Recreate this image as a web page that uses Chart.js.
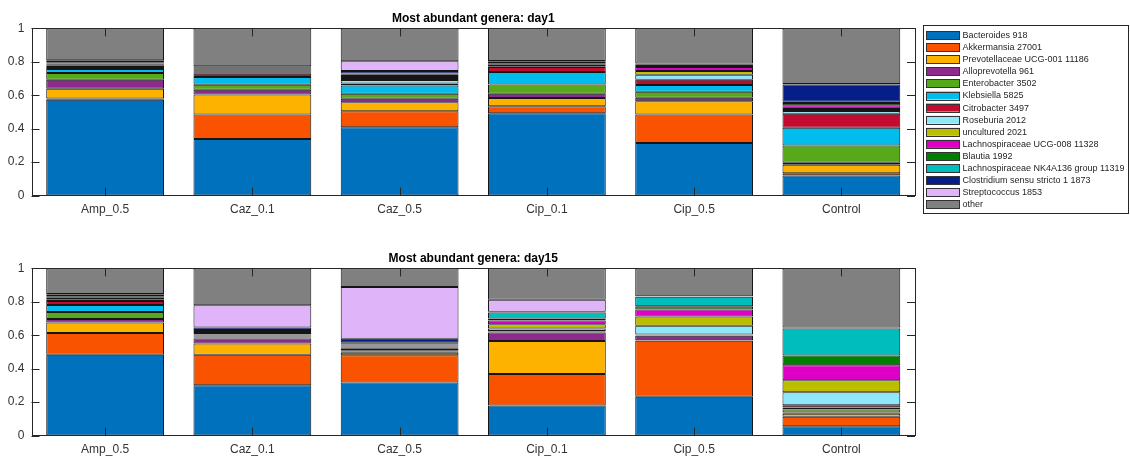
<!DOCTYPE html>
<html>
<head>
<meta charset="utf-8">
<script src="https://cdn.jsdelivr.net/npm/chart.js@4/dist/chart.umd.min.js"></script>
<style>
  html, body { margin: 0; padding: 0; background: #fff; }
  #wrap { position: relative; width: 1130px; height: 457px; overflow: hidden; }
  canvas { position: absolute; left: 0; }
  #day1 { top: 0; }
  #day15 { top: 240px; }
</style>
</head>
<body>
<div id="wrap">
  <canvas id="day1" width="1130" height="228"></canvas>
  <canvas id="day15" width="1130" height="224"></canvas>
</div>
<script>
// Treatment groups on the x axis
const categories = ['Amp_0.5', 'Caz_0.1', 'Caz_0.5', 'Cip_0.1', 'Cip_0.5', 'Control'];

// Genera (stack order, bottom to top)
const genera = [
  'Bacteroides 918',
  'Akkermansia 27001',
  'Prevotellaceae UCG-001 11186',
  'Alloprevotella 961',
  'Enterobacter 3502',
  'Klebsiella 5825',
  'Citrobacter 3497',
  'Roseburia 2012',
  'uncultured 2021',
  'Lachnospiraceae UCG-008 11328',
  'Blautia 1992',
  'Lachnospiraceae NK4A136 group 11319',
  'Clostridium sensu stricto 1 1873',
  'Streptococcus 1853',
  'other'
];

const generaColors = [
  '#0071bd', '#f95300', '#fdb200', '#8c2a8e', '#58a81c',
  '#00bdee', '#c10c30', '#8fe8fa', '#bcbc00', '#df00c6',
  '#007f00', '#00bdbd', '#061f88', '#e0b4f8', '#808080'
];

const yTicks = [0, 0.2, 0.4, 0.6, 0.8, 1];

// Relative abundance, one row per genus, one column per group
const day1Shares = [
  [0.573, 0.339, 0.409, 0.493, 0.315, 0.120],
  [0.008, 0.146, 0.096, 0.042, 0.170, 0.014],
  [0.058, 0.120, 0.054, 0.048, 0.080, 0.050],
  [0.054, 0.028, 0.020, 0.026, 0.020, 0.012],
  [0.040, 0.030, 0.030, 0.056, 0.036, 0.104],
  [0.024, 0.046, 0.050, 0.074, 0.040, 0.106],
  [0.012, 0.020, 0.012, 0.030, 0.032, 0.084],
  [0.006, 0.006, 0.020, 0.004, 0.030, 0.016],
  [0.005, 0.006, 0.012, 0.008, 0.022, 0.012],
  [0.005, 0.006, 0.012, 0.004, 0.024, 0.022],
  [0.005, 0.006, 0.008, 0.004, 0.006, 0.014],
  [0.005, 0.006, 0.008, 0.004, 0.008, 0.008],
  [0.010, 0.008, 0.014, 0.008, 0.004, 0.103],
  [0.005, 0.006, 0.058, 0.004, 0.003, 0.002],
  [0.190, 0.227, 0.197, 0.195, 0.210, 0.333]
];

const day15Shares = [
  [0.483, 0.301, 0.317, 0.180, 0.232, 0.056],
  [0.130, 0.182, 0.164, 0.188, 0.335, 0.056],
  [0.064, 0.068, 0.014, 0.198, 0.004, 0.018],
  [0.020, 0.030, 0.008, 0.050, 0.026, 0.008],
  [0.042, 0.006, 0.008, 0.003, 0.003, 0.018],
  [0.042, 0.006, 0.008, 0.003, 0.003, 0.012],
  [0.024, 0.006, 0.008, 0.003, 0.002, 0.014],
  [0.008, 0.006, 0.006, 0.015, 0.052, 0.077],
  [0.004, 0.008, 0.006, 0.026, 0.056, 0.072],
  [0.008, 0.006, 0.006, 0.022, 0.041, 0.090],
  [0.004, 0.006, 0.008, 0.012, 0.020, 0.058],
  [0.004, 0.006, 0.006, 0.036, 0.056, 0.162],
  [0.010, 0.016, 0.020, 0.004, 0.002, 0.003],
  [0.004, 0.133, 0.310, 0.073, 0.002, 0.002],
  [0.153, 0.220, 0.111, 0.187, 0.166, 0.354]
];

const FONT = '"Liberation Sans", Arial, Helvetica, sans-serif';
const AXIS_COLOR = '#262626';
const TICK_LEN = 8;

// Boxed axes with inward-pointing tick marks on all four sides
const boxAxesPlugin = {
  id: 'boxAxes',
  afterDatasetsDraw(chart) {
    const { ctx, chartArea: a, scales } = chart;
    const xs = scales.x, ys = scales.y;
    ctx.save();
    ctx.strokeStyle = AXIS_COLOR;
    ctx.lineWidth = 1;
    ctx.beginPath();
    yTicks.forEach(v => {
      const y = Math.round(ys.getPixelForValue(v)) + 0.5;
      ctx.moveTo(a.left, y); ctx.lineTo(a.left + TICK_LEN, y);
      ctx.moveTo(a.right, y); ctx.lineTo(a.right - TICK_LEN, y);
    });
    categories.forEach((c, i) => {
      const x = Math.round(xs.getPixelForValue(i)) + 0.5;
      ctx.moveTo(x, a.bottom); ctx.lineTo(x, a.bottom - TICK_LEN);
      ctx.moveTo(x, a.top); ctx.lineTo(x, a.top + TICK_LEN);
    });
    ctx.stroke();
    ctx.strokeRect(Math.round(a.left) + 0.5, Math.round(a.top) + 0.5,
                   Math.round(a.right - a.left) - 1, Math.round(a.bottom - a.top));
    ctx.restore();
  }
};

// Framed legend to the right of the plot
const sideLegendPlugin = {
  id: 'sideLegend',
  afterDraw(chart, args, opts) {
    if (!opts.show) return;
    const { ctx } = chart;
    const x0 = 923, y0 = 25, w = 205, h = 188;
    const rowGap = 12.1, firstRow = 35;
    ctx.save();
    ctx.fillStyle = '#fff';
    ctx.fillRect(x0, y0, w, h);
    ctx.strokeStyle = '#262626';
    ctx.lineWidth = 1;
    ctx.strokeRect(x0 + 0.5, y0 + 0.5, w, h);
    ctx.font = '9px ' + FONT;
    ctx.textBaseline = 'middle';
    chart.data.datasets.forEach((ds, i) => {
      const cy = firstRow + i * rowGap;
      ctx.fillStyle = ds.backgroundColor;
      ctx.fillRect(926, cy - 4, 34, 8);
      ctx.strokeStyle = '#333';
      ctx.strokeRect(926.5, Math.round(cy - 4) + 0.5, 33, 8);
      ctx.fillStyle = '#262626';
      ctx.fillText(ds.label, 962.5, cy + 0.5);
    });
    ctx.restore();
  }
};

function buildDatasets(shares) {
  return genera.map((name, i) => ({
    label: name,
    data: shares[i],
    backgroundColor: generaColors[i],
    borderColor: '#151515',
    borderWidth: 1,
    borderSkipped: false,
    barPercentage: 0.8,
    categoryPercentage: 1.0
  }));
}

function makeChart(canvasId, titleText, shares, withLegend, bottomPad) {
  return new Chart(document.getElementById(canvasId), {
    type: 'bar',
    data: { labels: categories, datasets: buildDatasets(shares) },
    options: {
      responsive: false,
      animation: false,
      devicePixelRatio: 1,
      layout: { padding: { left: 0, right: 215, top: 0, bottom: bottomPad } },
      plugins: {
        legend: { display: false },
        tooltip: { enabled: false },
        title: {
          display: true,
          text: titleText,
          fullSize: false,
          color: '#000',
          font: { family: FONT, size: 12, weight: 'bold', lineHeight: 1.2 },
          padding: { top: 11, bottom: 3 }
        },
        sideLegend: { show: withLegend }
      },
      scales: {
        x: {
          stacked: true,
          grid: { display: false, drawTicks: false },
          border: { display: false },
          ticks: { color: '#333', font: { family: FONT, size: 12 }, padding: 7, maxRotation: 0 }
        },
        y: {
          stacked: true,
          min: 0,
          max: 1,
          afterFit(scale) { scale.width = 31.5; },
          afterBuildTicks(scale) { scale.ticks = yTicks.map(v => ({ value: v })); },
          grid: { display: false, drawTicks: false },
          border: { display: false },
          ticks: {
            color: '#333',
            font: { family: FONT, size: 12 },
            padding: 7,
            callback: v => String(Math.round(v * 10) / 10)
          }
        }
      }
    },
    plugins: [boxAxesPlugin, sideLegendPlugin]
  });
}

makeChart('day1', 'Most abundant genera: day1', day1Shares, true, 4);
makeChart('day15', 'Most abundant genera: day15', day15Shares, false, 0);
</script>
</body>
</html>
